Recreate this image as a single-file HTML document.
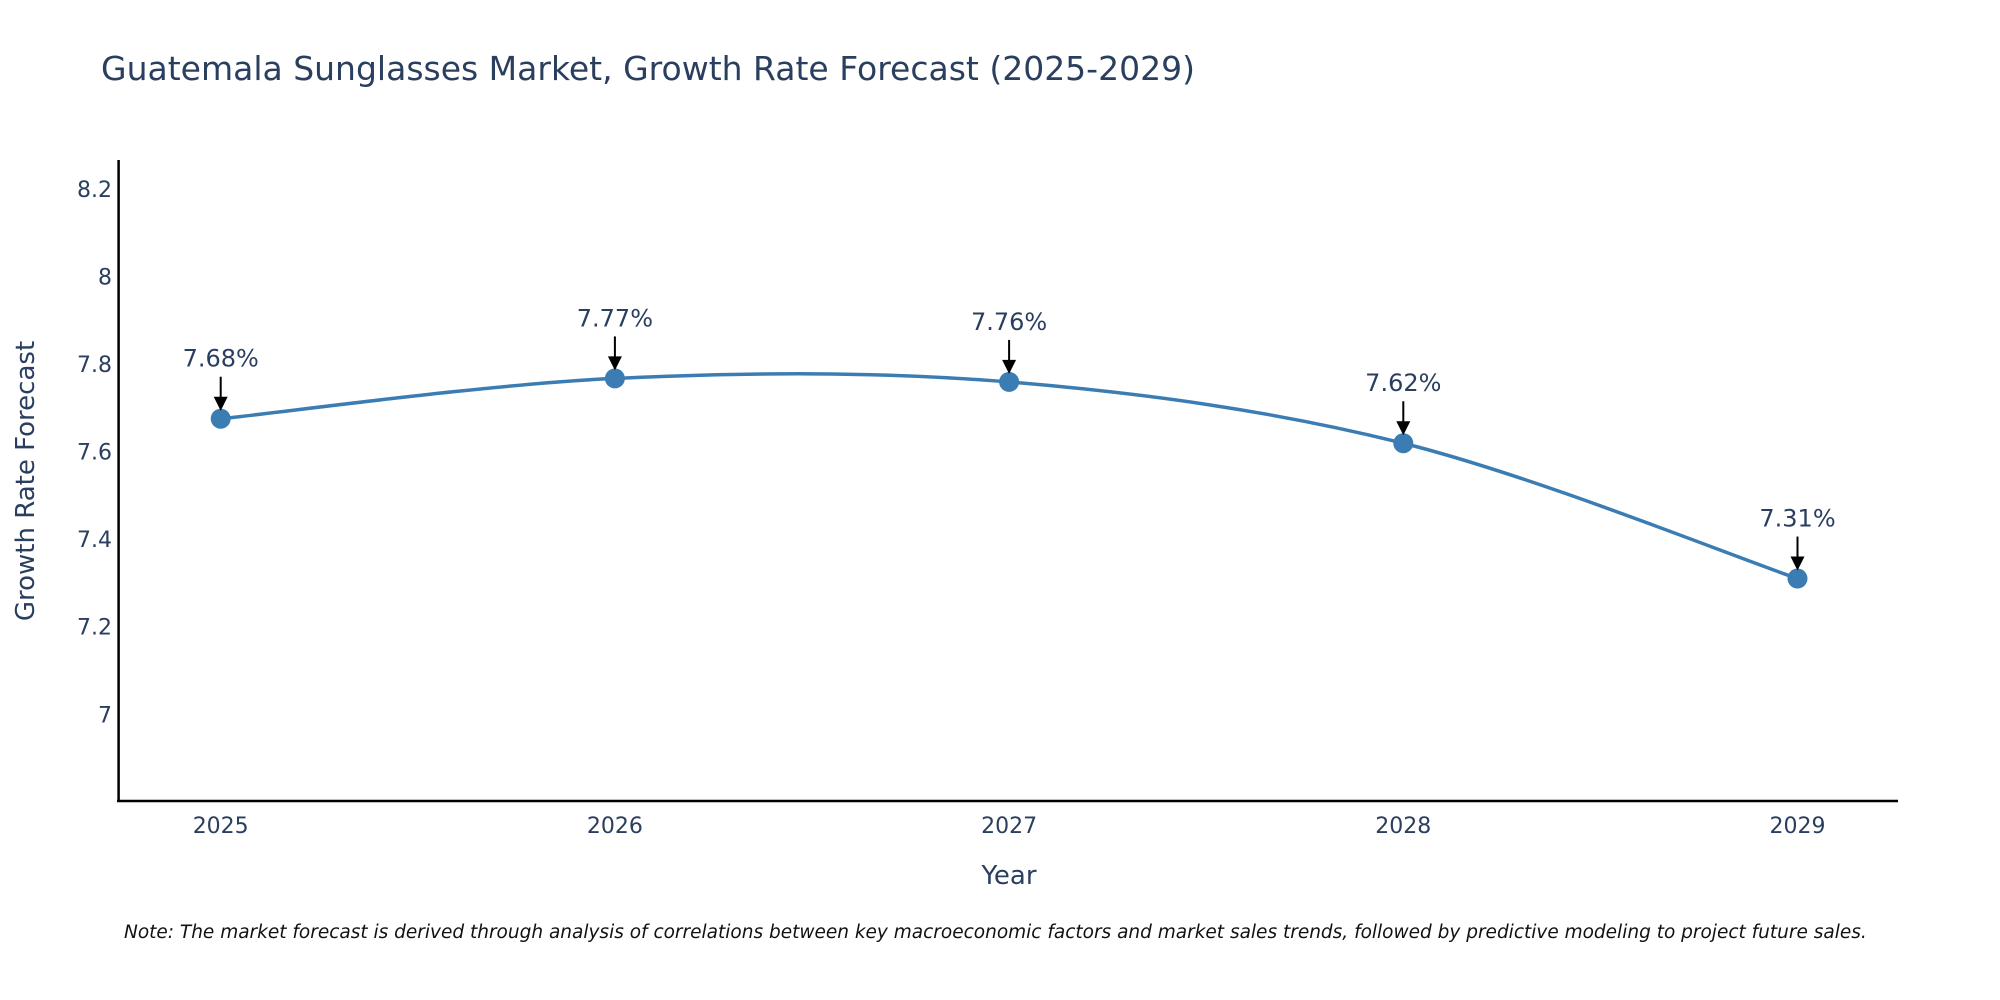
<!DOCTYPE html>
<html><head><meta charset="utf-8">
<style>
body{margin:0;background:#fff;}
svg{display:block;font-family:"DejaVu Sans","Liberation Sans",sans-serif;}
</style></head>
<body>
<svg id="chart" width="2000" height="1000" viewBox="0 0 2000 1000">
<text x="101" y="80" font-size="33" fill="#2a3f5f">Guatemala Sunglasses Market, Growth Rate Forecast (2025-2029)</text>
<g id="yticks"></g>
<g id="xticks"></g>
<line x1="118.6" y1="160" x2="118.6" y2="802" stroke="#000" stroke-width="2.5"/>
<line x1="117" y1="801" x2="1898" y2="801" stroke="#000" stroke-width="2.5"/>
<text transform="translate(34,481) rotate(-90)" text-anchor="middle" font-size="26" fill="#2a3f5f">Growth Rate Forecast</text>
<text x="1009" y="884" text-anchor="middle" font-size="26" fill="#2a3f5f">Year</text>
<g id="series"></g>
<text x="124" y="938" font-size="18.5" font-style="italic" fill="#111">Note: The market forecast is derived through analysis of correlations between key macroeconomic factors and market sales trends, followed by predictive modeling to project future sales.</text>
</svg>
<script>
const years = [2025, 2026, 2027, 2028, 2029];
const growth = [7.675, 7.767, 7.759, 7.619, 7.31];
const labels = ["7.68%", "7.77%", "7.76%", "7.62%", "7.31%"];
const yTickVals = [7, 7.2, 7.4, 7.6, 7.8, 8, 8.2];
const yTickLabels = ["7", "7.2", "7.4", "7.6", "7.8", "8", "8.2"];

const NS = "http://www.w3.org/2000/svg";
function xs(v){ return 220.7 + (v - 2025) * 394.2; }
function ys(v){ return 714.3 - (v - 7) * 437.9; }
function mk(tag, attrs, parent){
  const e = document.createElementNS(NS, tag);
  for (const k in attrs) e.setAttribute(k, attrs[k]);
  parent.appendChild(e); return e;
}
const yt = document.getElementById('yticks');
yTickVals.forEach((v, i) => {
  const t = mk('text', {x: 112, y: ys(v) + 8, 'text-anchor': 'end', 'font-size': 22, fill: '#2a3f5f'}, yt);
  
  
  t.textContent = yTickLabels[i];
});
const xt = document.getElementById('xticks');
years.forEach(y => {
  const t = mk('text', {x: xs(y), y: 833, 'text-anchor': 'middle', 'font-size': 22, fill: '#2a3f5f'}, xt);
  
  
  t.textContent = y;
});
const g = document.getElementById('series');
const P = years.map((y, i) => [xs(y), ys(growth[i])]);
let d = `M${P[0][0]},${P[0][1]}`;
for (let i = 0; i < P.length - 1; i++) {
  const p0 = P[Math.max(i-1,0)], p1 = P[i], p2 = P[i+1], p3 = P[Math.min(i+2,P.length-1)];
  const c1 = [p1[0] + (p2[0]-p0[0])/6, p1[1] + (p2[1]-p0[1])/6];
  const c2 = [p2[0] - (p3[0]-p1[0])/6, p2[1] - (p3[1]-p1[1])/6];
  d += ` C${c1[0]},${c1[1]} ${c2[0]},${c2[1]} ${p2[0]},${p2[1]}`;
}
const line = mk('path', {d: d, fill: 'none', stroke: '#3b7db3', 'stroke-width': 3.5}, g);


P.forEach((p, i) => {
  const c = mk('circle', {cx: p[0], cy: p[1], r: 10, fill: '#3b7db3'}, g);
  
  
  const a = mk('line', {x1: p[0], y1: p[1] - 42, x2: p[0], y2: p[1] - 18, stroke: '#000', 'stroke-width': 2}, g);
  
  
  const h = mk('polygon', {points: `${p[0]-7},${p[1]-22} ${p[0]+7},${p[1]-22} ${p[0]},${p[1]-8}`, fill: '#000'}, g);
  
  
  const t = mk('text', {x: p[0], y: p[1] - 52, 'text-anchor': 'middle', 'font-size': 24, fill: '#2a3f5f'}, g);
  
  
  t.textContent = labels[i];
});
</script>
</body></html>
